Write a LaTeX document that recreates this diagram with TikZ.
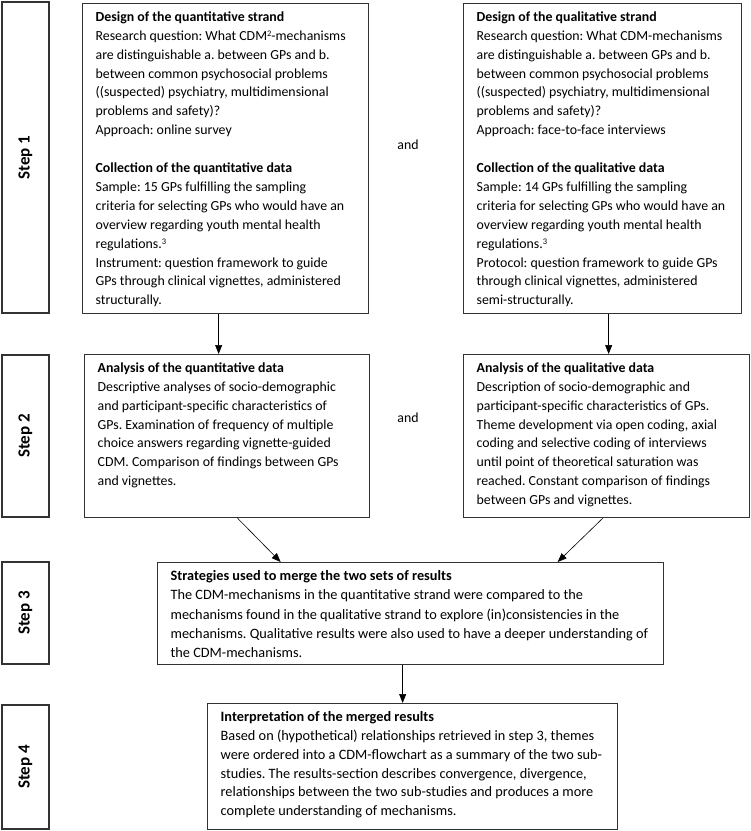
\documentclass[tikz,border=0pt]{standalone}
\usepackage{fontspec}
\setmainfont{Carlito}
\usetikzlibrary{arrows.meta,positioning}
\newcommand{\boxtext}[3]{\parbox[c][#2][t]{#1}{\raggedright #3}}
\newcommand{\smallsup}[1]{\raisebox{0.55ex}{\fontsize{8.5}{8.5}\selectfont #1}}

\begin{document}
\frenchspacing
\fontsize{13.85}{18.9}\selectfont
\begin{tikzpicture}[x=1pt,y=-1pt]
  \tikzstyle{panel}=[draw=black!80,line width=1.3pt,anchor=north west,%
    inner xsep=13pt,inner ysep=8pt]
  \tikzstyle{steplab}=[draw=black!80,line width=1.3pt,inner sep=0pt,%
    minimum height=47pt,rotate=90,font=\fontsize{17}{18}\selectfont\bfseries]
  \tikzstyle{conn}=[-{Triangle[width=7pt,length=9pt]},line width=0.6pt]
  \useasboundingbox (0,0) rectangle (751,831);

  \node[steplab,minimum width=311pt] (S1) at (25.5,157.5) {Step 1};
  \node[steplab,minimum width=162pt] (S2) at (25.5,436) {Step 2};
  \node[steplab,minimum width=102pt] (S3) at (25.5,613) {Step 3};
  \node[steplab,minimum width=124pt] (S4) at (25.5,767) {Step 4};

  \node[panel] (qnDesign) at (82,3) {\boxtext{260pt}{294pt}{%
    \textbf{Design of the quantitative strand}\\
    Research question: What CDM\smallsup{2}-mechanisms\\
    are distinguishable a. between GPs and b.\\
    between common psychosocial problems\\
    ((suspected) psychiatry, multidimensional\\
    problems and safety)?\\
    Approach: online survey\\[18.9pt]
    \textbf{Collection of the quantitative data}\\
    Sample: 15 GPs fulfilling the sampling\\
    \mbox{criteria for selecting GPs who would have an}\\
    overview regarding youth mental health\\
    regulations.\smallsup{3}\\
    Instrument: question framework to guide\\
    \mbox{GPs through clinical vignettes, administered}\\
    structurally.}};
  \node[panel] (qlDesign) at (463,3) {\boxtext{252pt}{294pt}{%
    \textbf{Design of the qualitative strand}\\
    Research question: What CDM-mechanisms\\
    are distinguishable a. between GPs and b.\\
    between common psychosocial problems\\
    ((suspected) psychiatry, multidimensional\\
    problems and safety)?\\
    Approach: face-to-face interviews\\[18.9pt]
    \textbf{Collection of the qualitative data}\\
    Sample: 14 GPs fulfilling the sampling\\
    \mbox{criteria for selecting GPs who would have an}\\
    overview regarding youth mental health\\
    regulations.\smallsup{3}\\
    \mbox{Protocol: question framework to guide GPs}\\
    through clinical vignettes, administered\\
    semi-structurally.}};
  \node (andA) at (408,145) {and};

  \node[panel] (qnAnal) at (84,354) {\boxtext{259pt}{147pt}{%
    \textbf{Analysis of the quantitative data}\\
    Descriptive analyses of socio-demographic\\
    and participant-specific characteristics of\\
    GPs. Examination of frequency of multiple\\
    choice answers regarding vignette-guided\\
    CDM. Comparison of findings between GPs\\
    and vignettes.}};
  \node[panel] (qlAnal) at (463,354) {\boxtext{260pt}{147pt}{%
    \textbf{Analysis of the qualitative data}\\
    Description of socio-demographic and\\
    \mbox{participant-specific characteristics of GPs.}\\
    Theme development via open coding, axial\\
    coding and selective coding of interviews\\
    until point of theoretical saturation was\\
    reached. Constant comparison of findings\\
    between GPs and vignettes.}};
  \node (andB) at (408,418) {and};

  \node[panel,font=\fontsize{14.3}{19.2}\selectfont] (merge) at (157,562) {\boxtext{480pt}{86pt}{%
    \textbf{Strategies used to merge the two sets of results}\\
    The CDM-mechanisms in the quantitative strand were compared to the\\
    mechanisms found in the qualitative strand to explore (in)consistencies in the\\
    \mbox{mechanisms. Qualitative results were also used to have a deeper understanding of}\\
    the CDM-mechanisms.}};

  \node[panel,font=\fontsize{14.3}{18.8}\selectfont] (interp) at (207,703) {\boxtext{384pt}{110pt}{%
    \textbf{Interpretation of the merged results}\\
    Based on (hypothetical) relationships retrieved in step 3, themes\\
    were ordered into a CDM-flowchart as a summary of the two sub-\\
    studies. The results-section describes convergence, divergence,\\
    relationships between the two sub-studies and produces a more\\
    complete understanding of mechanisms.}};

  % connectors
  \draw[conn] ([xshift=-7]qnDesign.south) -- ([xshift=-7]qnDesign.south |- qnAnal.north);
  \draw[conn] ([xshift=6]qlDesign.south) -- ([xshift=6]qlDesign.south |- qlAnal.north);
  \draw[conn] ([xshift=10.5]qnAnal.south) -- ([xshift=-130]merge.north);
  \draw[conn] ([xshift=-4]qlAnal.south) -- ([xshift=147]merge.north);
  \draw[conn] ([xshift=-8]merge.south) -- ([xshift=-8]merge.south |- interp.north);
\end{tikzpicture}
\end{document}
